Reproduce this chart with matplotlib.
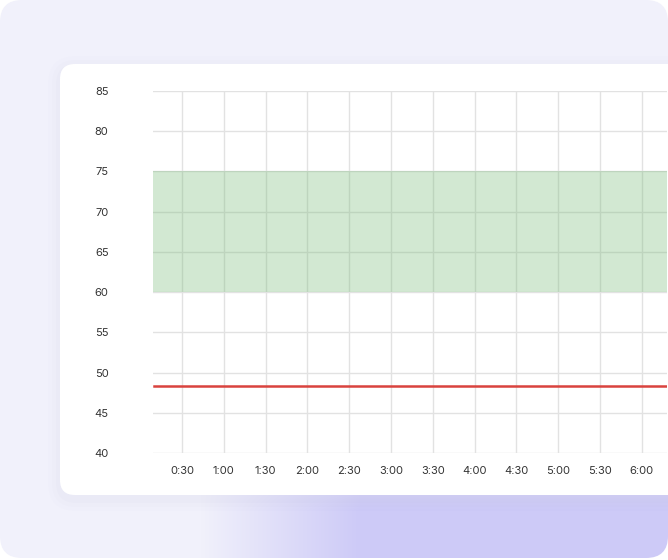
import numpy as np
import matplotlib
matplotlib.use("Agg")
import matplotlib.pyplot as plt
from matplotlib.patches import FancyBboxPatch

# data
tick_minutes = [30, 60, 90, 120, 150, 180, 210, 240, 270, 300, 330, 360]
tick_labels = ["0:30", "1:00", "1:30", "2:00", "2:30", "3:00",
               "3:30", "4:00", "4:30", "5:00", "5:30", "6:00"]
y_ticks = [40, 45, 50, 55, 60, 65, 70, 75, 80, 85]
line_minutes = [10, 30, 60, 90, 120, 150, 180, 210, 240, 270, 300, 330, 360, 390]
line_values = [48.3] * len(line_minutes)
band_low, band_high = 60, 75

plt.rcParams['font.family'] = ['Inter', 'DejaVu Sans']

W, H = 668, 560
fig = plt.figure(figsize=(W / 100, H / 100), dpi=100)

# background panel with soft purple glow at the bottom right
bg = fig.add_axes([0, 0, 1, 1])
bg.set_xlim(0, W)
bg.set_ylim(H, 0)
bg.axis("off")
xx, yy = np.meshgrid(np.arange(W), np.arange(H))
base = np.array([241, 241, 251]) / 255
purple = np.array([205, 202, 247]) / 255
w = np.clip((xx - 200) / 160, 0, 1) * np.clip((yy - 440) / 70, 0, 1)
w = w[..., None]
img = base * (1 - w) + purple * w
im = bg.imshow(img, extent=(0, W, H, 0), zorder=0)
panel = FancyBboxPatch((0, 0), W, 558, boxstyle="round,pad=0,rounding_size=22",
                       transform=bg.transData, facecolor="none", edgecolor="none")
bg.add_patch(panel)
im.set_clip_path(panel)

# shadow + white card
for i, a in enumerate([0.02, 0.015, 0.01]):
    s = 4 + i * 4
    bg.add_patch(FancyBboxPatch((60 - s, 64 - s + 4), 700, 431 + 2 * s,
                                boxstyle="round,pad=0,rounding_size=%d" % (16 + s),
                                facecolor=(0.45, 0.45, 0.7, a), edgecolor="none", zorder=1))
bg.add_patch(FancyBboxPatch((60, 64), 660, 431, boxstyle="round,pad=0,rounding_size=15",
                            facecolor="white", edgecolor="none", zorder=2))

# chart
ax = fig.add_axes([153 / W, 107 / H, (667 - 153) / W, 362 / H])
ax.set_facecolor("none")
ax.axhspan(band_low, band_high, color=(0.45, 0.72, 0.45), alpha=0.32, lw=0, zorder=2)
ax.plot(line_minutes, line_values, color="#D9433E", lw=1.8, zorder=3)
ax.set_ylim(40, 85)
ax.set_xlim(9.2, 30 + (667 - 182) / 41.8 * 30)
ax.set_yticks(y_ticks)
ax.set_xticks(tick_minutes)
ax.set_xticklabels(tick_labels)
ax.grid(True, color="#E2E2E2", lw=1, zorder=1)
ax.set_axisbelow(True)
for sp in ax.spines.values():
    sp.set_visible(False)
ax.tick_params(axis="both", length=0, labelsize=8, labelcolor="#333333")
ax.tick_params(axis="y", pad=32)
ax.tick_params(axis="x", pad=9)

fig.savefig("out.png", dpi=100)
